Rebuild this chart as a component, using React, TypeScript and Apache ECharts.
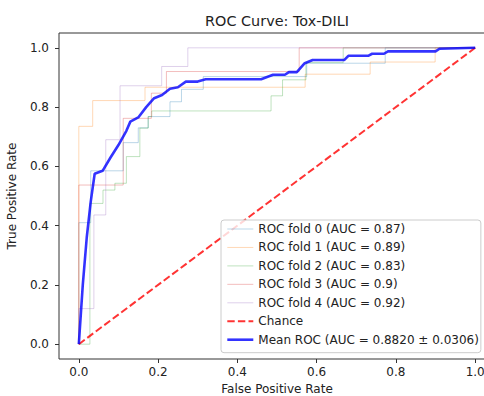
import React, { useEffect, useRef } from "react";
import * as echarts from "echarts";

const titleText = "ROC Curve: Tox-DILI";
const xTicks = [0, 0.2, 0.4, 0.6, 0.8, 1.0];
const yTicks = [0, 0.2, 0.4, 0.6, 0.8, 1.0];

const foldNames = [
  "ROC fold 0 (AUC = 0.87)",
  "ROC fold 1 (AUC = 0.89)",
  "ROC fold 2 (AUC = 0.83)",
  "ROC fold 3 (AUC = 0.9)",
  "ROC fold 4 (AUC = 0.92)",
];
const chanceName = "Chance";
const meanName = "Mean ROC (AUC = 0.8820 \u00b1 0.0306)";

const fold0Fpr = [0, 0, 0.03, 0.03, 0.112, 0.112, 0.15, 0.15, 0.175, 0.175, 0.23, 0.23, 0.259, 0.259, 0.314, 0.314, 0.575, 0.575, 0.773, 0.773, 1];
const fold0Tpr = [0, 0.41, 0.41, 0.585, 0.585, 0.68, 0.68, 0.73, 0.73, 0.768, 0.768, 0.818, 0.818, 0.86, 0.86, 0.903, 0.903, 0.948, 0.948, 1, 1];

const fold1Fpr = [0, 0, 0.035, 0.035, 0.167, 0.167, 0.571, 0.571, 0.735, 0.735, 0.899, 0.899, 1];
const fold1Tpr = [0, 0.735, 0.735, 0.822, 0.822, 0.867, 0.867, 0.911, 0.911, 0.952, 0.952, 1, 1];

const fold2Fpr = [0, 0.028, 0.028, 0.061, 0.061, 0.091, 0.091, 0.12, 0.12, 0.154, 0.154, 0.175, 0.175, 0.184, 0.184, 0.485, 0.485, 0.514, 0.514, 0.573, 0.573, 0.667, 0.667, 1];
const fold2Tpr = [0, 0, 0.475, 0.475, 0.52, 0.52, 0.543, 0.543, 0.633, 0.633, 0.729, 0.729, 0.768, 0.768, 0.787, 0.787, 0.838, 0.838, 0.892, 0.892, 0.95, 0.95, 1, 1];

const fold3Fpr = [0, 0, 0.112, 0.112, 0.183, 0.183, 0.221, 0.221, 0.556, 0.556, 1];
const fold3Tpr = [0, 0.537, 0.537, 0.762, 0.762, 0.847, 0.847, 0.92, 0.92, 1, 1];

const fold4Fpr = [0, 0, 0.038, 0.038, 0.068, 0.068, 0.104, 0.104, 0.209, 0.209, 0.275, 0.275, 1];
const fold4Tpr = [0, 0.12, 0.12, 0.436, 0.436, 0.69, 0.69, 0.872, 0.872, 0.937, 0.937, 1, 1];

const chanceFpr = [0, 1];
const chanceTpr = [0, 1];

const meanFpr = [0, 0.01, 0.02, 0.03, 0.04, 0.06, 0.08, 0.1, 0.12, 0.13, 0.15, 0.17, 0.19, 0.21, 0.23, 0.25, 0.27, 0.3, 0.32, 0.46, 0.49, 0.52, 0.53, 0.55, 0.57, 0.59, 0.67, 0.68, 0.73, 0.74, 0.77, 0.78, 0.9, 0.91, 1.0];
const meanTpr = [0, 0.2, 0.36, 0.48, 0.575, 0.585, 0.63, 0.672, 0.72, 0.751, 0.765, 0.8, 0.83, 0.841, 0.862, 0.867, 0.886, 0.886, 0.894, 0.894, 0.909, 0.909, 0.918, 0.918, 0.948, 0.959, 0.959, 0.973, 0.973, 0.98, 0.98, 0.988, 0.988, 0.997, 1.0];

const foldFprs = [fold0Fpr, fold1Fpr, fold2Fpr, fold3Fpr, fold4Fpr];
const foldTprs = [fold0Tpr, fold1Tpr, fold2Tpr, fold3Tpr, fold4Tpr];
const foldColors = [
  "rgba(31,119,180,0.3)",
  "rgba(255,127,14,0.3)",
  "rgba(44,160,44,0.3)",
  "rgba(214,39,40,0.3)",
  "rgba(148,103,189,0.3)",
];

const zip = (xs: number[], ys: number[]) => xs.map((x, i) => [x, ys[i]]);

const FONT = "DejaVu Sans";
const TEXT = "#222";
const FS = 12;
const NO_SYMBOL = { color: "transparent", borderColor: "transparent", borderWidth: 0, opacity: 0 };

export default function App() {
  const ref = useRef<HTMLDivElement>(null);
  useEffect(() => {
    if (!ref.current) return;
    const chart = echarts.init(ref.current, null, { renderer: "svg" });

    const foldSeries = foldNames.map((name, i) => ({
      name,
      type: "line",
      data: zip(foldFprs[i], foldTprs[i]),
      symbol: "none",
      lineStyle: { color: foldColors[i], width: 1 },
      itemStyle: { color: foldColors[i] },
      z: 2,
    }));

    const axisCommon = {
      type: "value",
      min: -0.05,
      max: 1.05,
      splitLine: { show: false },
      axisLine: { show: false, onZero: false },
      nameLocation: "middle",
      nameTextStyle: { fontFamily: FONT, fontSize: FS, color: TEXT },
    };
    const tickStyle = { show: true, length: 4, lineStyle: { color: "#333", width: 1 } };

    chart.setOption({
      animation: false,
      backgroundColor: "#fff",
      title: {
        text: titleText,
        left: 277,
        top: 14,
        textAlign: "center",
        padding: 0,
        textStyle: { fontFamily: FONT, fontSize: 14.4, fontWeight: "normal", color: TEXT },
      },
      grid: {
        left: 59,
        top: 33,
        width: 436,
        height: 326,
        outerBoundsMode: "none",
        containLabel: false,
        show: true,
        borderColor: "#333",
        borderWidth: 1,
        backgroundColor: "transparent",
      },
      xAxis: {
        ...axisCommon,
        position: "bottom",
        name: "False Positive Rate",
        nameGap: 24,
        axisTick: { ...tickStyle, customValues: xTicks },
        axisLabel: {
          customValues: xTicks,
          margin: 7,
          fontFamily: FONT,
          fontSize: FS,
          color: TEXT,
          formatter: (v: number) => v.toFixed(1),
        },
      },
      yAxis: {
        ...axisCommon,
        position: "left",
        name: "True Positive Rate",
        nameGap: 41,
        axisTick: { ...tickStyle, customValues: yTicks },
        axisLabel: {
          customValues: yTicks,
          margin: 10,
          fontFamily: FONT,
          fontSize: FS,
          color: TEXT,
          formatter: (v: number) => v.toFixed(1),
        },
      },
      legend: {
        orient: "vertical",
        left: 221,
        top: 220,
        itemWidth: 26,
        itemHeight: 12,
        itemGap: 6.45,
        padding: [3, 2, 7, 5],
        backgroundColor: "rgba(255,255,255,0.8)",
        borderColor: "#ccc",
        borderWidth: 1,
        borderRadius: 3,
        itemStyle: NO_SYMBOL,
        textStyle: { fontFamily: FONT, fontSize: FS, color: TEXT },
        data: [
          ...foldNames.map((name, i) => ({
            name,
            itemStyle: NO_SYMBOL,
            lineStyle: { color: foldColors[i], width: 1 },
          })),
          {
            name: chanceName,
            itemStyle: NO_SYMBOL,
            lineStyle: { color: "rgba(255,0,0,0.8)", width: 2, type: [7.4, 3.2] },
          },
          {
            name: meanName,
            itemStyle: NO_SYMBOL,
            lineStyle: { color: "rgba(0,0,255,0.8)", width: 2.6 },
          },
        ],
      },
      series: [
        ...foldSeries,
        {
          name: chanceName,
          type: "line",
          data: zip(chanceFpr, chanceTpr),
          symbol: "none",
          lineStyle: { color: "rgba(255,0,0,0.8)", width: 2, type: [7.4, 3.2] },
          itemStyle: { color: "rgba(255,0,0,0.8)" },
          z: 3,
        },
        {
          name: meanName,
          type: "line",
          data: zip(meanFpr, meanTpr),
          symbol: "none",
          lineStyle: { color: "rgba(0,0,255,0.8)", width: 2.6 },
          itemStyle: { color: "rgba(0,0,255,0.8)" },
          z: 4,
        },
      ],
    });
    return () => chart.dispose();
  }, []);

  return (
    <div
      ref={ref}
      style={{ position: "fixed", left: 0, top: 0, width: 484, height: 396 }}
    />
  );
}
